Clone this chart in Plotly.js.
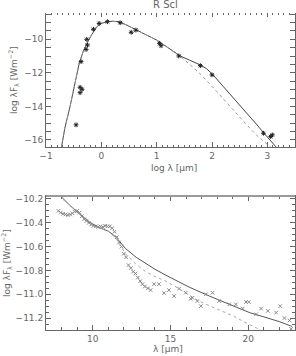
<!DOCTYPE html>
<html><head><meta charset="utf-8">
<script src="https://cdn.plot.ly/plotly-3.0.1.min.js"></script>
<style>html,body{margin:0;padding:0;background:#fff}</style>
</head><body><div id="chart" style="width:296px;height:356px"></div>
<script>
// ---- Top panel: SED (log lambda vs log lambda F lambda)
const sedModelX = [-0.74,-0.66,-0.565,-0.48,-0.40,-0.33,-0.26,-0.17,-0.08,0.0,0.10,0.20,0.31,0.46,0.60,0.80,1.00,1.20,1.43,1.60,1.79,1.90,2.00,2.20,2.39,2.60,2.80,2.94,3.15,3.22];
const sedModelY = [-16.8,-15.3,-14.0,-12.6,-11.43,-10.75,-10.24,-9.70,-9.25,-9.05,-8.95,-8.92,-8.95,-9.15,-9.40,-9.72,-10.04,-10.50,-11.00,-11.25,-11.53,-11.75,-12.05,-12.80,-13.50,-14.30,-15.05,-15.60,-16.40,-16.65];
const sedPhotX = [-0.74,-0.66,-0.565,-0.48,-0.40,-0.33,-0.26,-0.17,-0.08,0.0,0.10,0.20,0.31,0.46,0.60,0.80,1.00,1.20,1.40,1.60,1.80,2.00,2.20,2.40,2.60,2.80,3.05,3.12];
const sedPhotY = [-16.8,-15.3,-14.0,-12.6,-11.43,-10.75,-10.24,-9.70,-9.25,-9.05,-8.95,-8.92,-8.95,-9.15,-9.40,-9.72,-10.04,-10.50,-10.95,-11.50,-12.10,-12.80,-13.55,-14.30,-15.00,-15.70,-16.40,-16.60];
const photX = [-0.457,-0.384,-0.348,-0.384,-0.366,-0.263,-0.25,-0.275,-0.143,-0.04,0.11,0.34,0.54,0.625,1.05,1.08,1.40,1.79,2.00,2.93,3.06,3.09];
const photY = [-15.1,-12.86,-12.98,-13.18,-11.33,-10.0,-10.34,-10.6,-9.4,-9.05,-8.95,-9.01,-9.58,-9.45,-10.24,-10.38,-10.99,-11.57,-12.12,-15.6,-15.8,-15.7];
const topXTicks = [-1,0,1,2,3];
const topXTickText = ["−1","0","1","2","3"];
const topYTicks = [-10,-12,-14,-16];
const topYTickText = ["−10","−12","−14","−16"];

// ---- Bottom panel: IR spectrum (lambda vs log lambda F lambda)
const specModelX = [7.9,8.5,9.1,9.8,10.4,11.0,11.5,12.1,12.8,13.4,14.0,14.7,15.5,16.2,17.5,18.5,19.5,20.1,21.0,22.0,22.8];
const specModelY = [-10.17,-10.25,-10.32,-10.395,-10.44,-10.47,-10.52,-10.615,-10.69,-10.74,-10.79,-10.84,-10.895,-10.94,-11.015,-11.07,-11.12,-11.155,-11.19,-11.23,-11.27];
const specPhotX = [8.1,8.6,9.1,9.8,10.4,11.0,11.5,12.1,12.8,13.4,14.0,14.7,15.5,16.8,18.0,19.0,20.0,20.8,21.1];
const specPhotY = [-10.205,-10.26,-10.32,-10.39,-10.44,-10.47,-10.53,-10.66,-10.75,-10.81,-10.85,-10.89,-10.95,-11.055,-11.125,-11.18,-11.25,-11.30,-11.32];
const specObsX = [7.8,7.95,8.1,8.25,8.4,8.55,8.7,8.85,9.0,9.15,9.3,9.45,9.6,9.75,9.9,10.05,10.2,10.35,10.5,10.65,10.8,10.95,11.1,11.25,11.4,11.55,11.7,11.85,12.0,12.15,12.3,12.45,12.6,12.75,12.9,13.05,13.2,13.35,13.55,13.72,13.94,14.26,14.58,14.9,15.23,15.55,15.98,16.3,16.41,16.73,16.95,17.27,17.7,18.13,18.77,19.2,19.64,19.85,20.03,20.5,20.82,21.25,21.79,22.05,22.32,22.65,22.75];
const specObsY = [-10.30,-10.315,-10.325,-10.33,-10.335,-10.33,-10.32,-10.305,-10.30,-10.315,-10.345,-10.37,-10.385,-10.40,-10.415,-10.425,-10.43,-10.435,-10.43,-10.435,-10.425,-10.43,-10.43,-10.445,-10.475,-10.52,-10.565,-10.60,-10.66,-10.69,-10.755,-10.78,-10.81,-10.825,-10.86,-10.89,-10.915,-10.935,-10.95,-10.965,-10.915,-10.915,-10.99,-10.965,-11.015,-10.953,-10.987,-11.037,-11.03,-11.057,-11.10,-11.0,-10.987,-11.057,-11.085,-11.085,-11.12,-11.065,-11.065,-11.168,-11.12,-11.14,-11.154,-11.10,-11.2,-11.22,-11.29];
const botXTicks = [10,15,20];
const botYTicks = [-10.2,-10.4,-10.6,-10.8,-11.0,-11.2];
const botYTickText = ["−10.2","−10.4","−10.6","−10.8","−11.0","−11.2"];

const W = 296, H = 356;
const px = v => v / W, py = v => 1 - v / H;
const txt = '#666', ax = '#666';
const fnt = {family: 'DejaVu Sans, sans-serif', size: 9, color: txt};

const traces = [
  {x: sedModelX, y: sedModelY, xaxis: 'x', yaxis: 'y', mode: 'lines', line: {color: '#444', width: 1}, hoverinfo: 'skip'},
  {x: sedPhotX, y: sedPhotY, xaxis: 'x', yaxis: 'y', mode: 'lines', line: {color: '#999', width: 1, dash: 'dot'}, hoverinfo: 'skip'},
  {x: photX, y: photY, xaxis: 'x', yaxis: 'y', mode: 'markers', marker: {symbol: 'asterisk-open', size: 4, color: '#222', line: {color: '#222', width: 1}}},
  {x: [0], y: [-20], xaxis: 'x3', yaxis: 'y', mode: 'markers', marker: {opacity: 0}, hoverinfo: 'skip'},
  {x: specModelX, y: specModelY, xaxis: 'x2', yaxis: 'y2', mode: 'lines', line: {color: '#555', width: 1}, hoverinfo: 'skip'},
  {x: specPhotX, y: specPhotY, xaxis: 'x2', yaxis: 'y2', mode: 'lines', line: {color: '#aaa', width: 1, dash: 'dot'}, hoverinfo: 'skip'},
  {x: specObsX, y: specObsY, xaxis: 'x2', yaxis: 'y2', mode: 'markers', marker: {symbol: 'x-thin-open', size: 3.5, color: '#888', line: {color: '#888', width: 1}}}
];

const xDom = [px(46), px(295)];
const minorCommon = {ticks: 'inside', tickcolor: ax};
const layout = {
  width: W, height: H, autosize: false,
  margin: {l: 0, r: 0, t: 0, b: 0},
  paper_bgcolor: '#fff', plot_bgcolor: '#fff',
  showlegend: false, font: fnt,
  xaxis: {domain: xDom, anchor: 'y', range: [-1, 3.5], tickvals: topXTicks, ticktext: topXTickText,
    ticks: 'inside', ticklen: 5, tickcolor: ax, showline: true, linecolor: ax, linewidth: 1, mirror: false,
    minor: Object.assign({dtick: 0.1, ticklen: 2}, minorCommon), showgrid: false, zeroline: false, automargin: false, tickfont: fnt},
  xaxis3: {overlaying: 'x', anchor: 'y', side: 'top', range: [-1, 3.5], tickvals: topXTicks, showticklabels: false,
    ticks: 'inside', ticklen: 4, tickcolor: ax, showline: false,
    minor: Object.assign({dtick: 0.1, ticklen: 2}, minorCommon), showgrid: false, zeroline: false, automargin: false},
  yaxis: {domain: [py(147), py(13)], anchor: 'x', range: [-16.42, -8.43], tickvals: topYTicks, ticktext: topYTickText,
    ticks: 'inside', ticklen: 5, tickcolor: ax, showline: true, linecolor: ax, linewidth: 1, mirror: 'allticks',
    minor: Object.assign({dtick: 0.5, ticklen: 3}, minorCommon), showgrid: false, zeroline: false, automargin: false, tickfont: fnt},
  xaxis2: {domain: xDom, anchor: 'y2', range: [7, 23], tickvals: botXTicks,
    ticks: 'inside', ticklen: 5, tickcolor: ax, showline: true, linecolor: ax, linewidth: 1, mirror: 'allticks',
    minor: Object.assign({dtick: 1, ticklen: 3}, minorCommon), showgrid: false, zeroline: false, automargin: false, tickfont: fnt},
  yaxis2: {domain: [py(330), py(196)], anchor: 'x2', range: [-11.3, -10.175], tickvals: botYTicks, ticktext: botYTickText,
    ticks: 'inside', ticklen: 5, tickcolor: ax, showline: true, linecolor: ax, linewidth: 1, mirror: 'allticks',
    minor: Object.assign({dtick: 0.05, ticklen: 3}, minorCommon), showgrid: false, zeroline: false, automargin: false, tickfont: fnt},
  shapes: [
    {type: 'line', xref: 'paper', yref: 'paper', x0: px(46), x1: px(295), y0: py(196), y1: py(196), line: {color: '#999', width: 2}}
  ],
  annotations: [
    {text: 'R Scl', xref: 'paper', yref: 'paper', x: px(165), y: py(5), showarrow: false, xanchor: 'center', yanchor: 'middle', font: {family: fnt.family, size: 10, color: txt}},
    {text: 'log λF<sub>λ</sub> [Wm<sup>−2</sup>]', textangle: -90, xref: 'paper', yref: 'paper', x: px(13), y: py(80), showarrow: false, xanchor: 'center', yanchor: 'middle', font: fnt},
    {text: 'log λ [μm]', xref: 'paper', yref: 'paper', x: px(174), y: py(168), showarrow: false, xanchor: 'center', yanchor: 'middle', font: fnt},
    {text: 'log λF<sub>λ</sub> [Wm<sup>−2</sup>]', textangle: -90, xref: 'paper', yref: 'paper', x: px(6), y: py(263), showarrow: false, xanchor: 'center', yanchor: 'middle', font: fnt},
    {text: 'λ [μm]', xref: 'paper', yref: 'paper', x: px(168), y: py(349), showarrow: false, xanchor: 'center', yanchor: 'middle', font: fnt}
  ]
};
Plotly.newPlot('chart', traces, layout, {staticPlot: true, displayModeBar: false});
</script></body></html>
